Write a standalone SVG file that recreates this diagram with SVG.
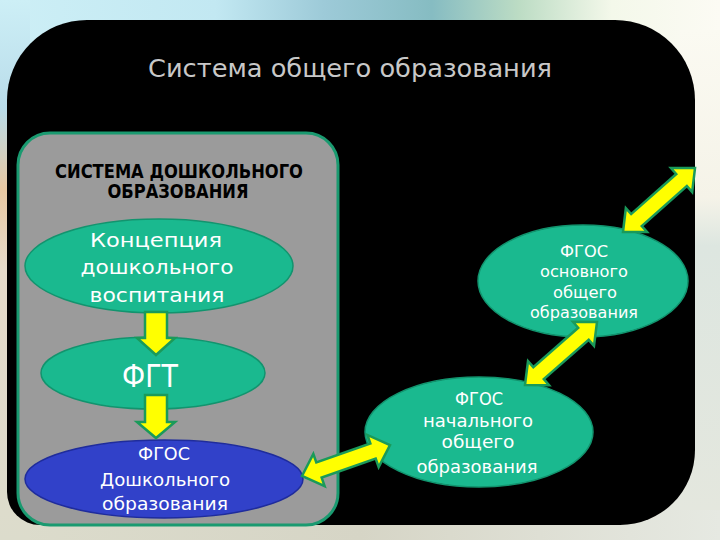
<svg xmlns="http://www.w3.org/2000/svg" width="720" height="540" viewBox="0 0 720 540">
<defs>
<linearGradient id="topg" x1="0" y1="0" x2="1" y2="0">
<stop offset="0" stop-color="#cdeff6"/>
<stop offset="0.3" stop-color="#c2e8f2"/>
<stop offset="0.45" stop-color="#9dcad8"/>
<stop offset="0.6" stop-color="#86bcc2"/>
<stop offset="0.72" stop-color="#bcdcc4"/>
<stop offset="0.85" stop-color="#f4f8ea"/>
<stop offset="1" stop-color="#fcfbf4"/>
</linearGradient>
<linearGradient id="leftg" x1="0" y1="0" x2="0" y2="1">
<stop offset="0" stop-color="#cdeff6"/>
<stop offset="0.2" stop-color="#b9dcea"/>
<stop offset="0.35" stop-color="#e8c8a2"/>
<stop offset="0.5" stop-color="#e6dccb"/>
<stop offset="1" stop-color="#dcdccc"/>
</linearGradient>
<linearGradient id="rightg" x1="0" y1="0" x2="0" y2="1">
<stop offset="0" stop-color="#fbfaf2"/>
<stop offset="0.35" stop-color="#f5f3e8"/>
<stop offset="0.45" stop-color="#dde6e0"/>
<stop offset="1" stop-color="#e4e7de"/>
</linearGradient>
<linearGradient id="botg" x1="0" y1="0" x2="1" y2="0">
<stop offset="0" stop-color="#dcdccc"/>
<stop offset="0.5" stop-color="#d6d5c6"/>
<stop offset="1" stop-color="#e6e9e2"/>
</linearGradient>
<style>
.ell{fill:#1ab98f;stroke:#12946e;stroke-width:1.5}
.blue{fill:#3141c9;stroke:#1f2c9c;stroke-width:1.5}
.arr{fill:#ffff00;stroke:#1a9a5a;stroke-width:2.5;stroke-linejoin:miter}
.wt{fill:#ffffff;font-family:"DejaVu Sans","Liberation Sans",sans-serif;text-anchor:middle}
.bk{fill:#000000;font-family:"DejaVu Sans","Liberation Sans",sans-serif;font-weight:bold;text-anchor:middle}
</style>
</defs>
<rect x="0" y="0" width="720" height="540" fill="url(#botg)"/>
<rect x="0" y="0" width="720" height="60" fill="url(#topg)"/>
<rect x="0" y="0" width="30" height="540" fill="url(#leftg)"/>
<rect x="680" y="30" width="40" height="480" fill="url(#rightg)"/>
<path d="M7,100 A80,80 0 0 1 87,20 H615 A80,80 0 0 1 695,100 V450 A75,75 0 0 1 620,525 H40 A33,33 0 0 1 7,492 Z" fill="#000000"/>
<text x="350" y="77" fill="#c8c8c8" font-family="DejaVu Sans, sans-serif" font-size="24" text-anchor="middle" textLength="404" lengthAdjust="spacingAndGlyphs">Система общего образования</text>
<g id="panel">
<rect x="18" y="133" width="320" height="392" rx="32" fill="#9b9b9b" stroke="#1a9a70" stroke-width="3"/>
<text class="bk" x="179" y="178" font-size="19" textLength="248" lengthAdjust="spacingAndGlyphs">СИСТЕМА ДОШКОЛЬНОГО</text>
<text class="bk" x="178" y="198" font-size="19" textLength="141" lengthAdjust="spacingAndGlyphs">ОБРАЗОВАНИЯ</text>
</g>
<g id="concept">
<ellipse class="ell" cx="159" cy="266" rx="134" ry="47"/>
<text class="wt" x="156" y="247" font-size="20" textLength="132" lengthAdjust="spacingAndGlyphs">Концепция</text>
<text class="wt" x="157" y="274" font-size="20" textLength="153" lengthAdjust="spacingAndGlyphs">дошкольного</text>
<text class="wt" x="157" y="302" font-size="20" textLength="135" lengthAdjust="spacingAndGlyphs">воспитания</text>
</g>
<g id="fgt">
<ellipse class="ell" cx="153" cy="373" rx="112" ry="36"/>
<text class="wt" x="150" y="387" font-size="32" textLength="56" lengthAdjust="spacingAndGlyphs">ФГТ</text>
</g>
<g id="fgos-preschool">
<ellipse class="blue" cx="164" cy="479" rx="139" ry="39"/>
<text class="wt" x="164" y="460" font-size="17" textLength="52" lengthAdjust="spacingAndGlyphs">ФГОС</text>
<text class="wt" x="165" y="486" font-size="17" textLength="130" lengthAdjust="spacingAndGlyphs">Дошкольного</text>
<text class="wt" x="165" y="510" font-size="17" textLength="126" lengthAdjust="spacingAndGlyphs">образования</text>
</g>
<g id="fgos-primary">
<ellipse class="ell" cx="479" cy="432" rx="114" ry="55"/>
<text class="wt" x="479" y="405" font-size="18" textLength="48" lengthAdjust="spacingAndGlyphs">ФГОС</text>
<text class="wt" x="478" y="427" font-size="18" textLength="110" lengthAdjust="spacingAndGlyphs">начального</text>
<text class="wt" x="478" y="448" font-size="18" textLength="73" lengthAdjust="spacingAndGlyphs">общего</text>
<text class="wt" x="477" y="473" font-size="18" textLength="121" lengthAdjust="spacingAndGlyphs">образования</text>
</g>
<g id="fgos-basic">
<ellipse class="ell" cx="583" cy="281" rx="105" ry="56"/>
<text class="wt" x="584" y="257" font-size="15" textLength="48" lengthAdjust="spacingAndGlyphs">ФГОС</text>
<text class="wt" x="584" y="277" font-size="15" textLength="88" lengthAdjust="spacingAndGlyphs">основного</text>
<text class="wt" x="585" y="298" font-size="15" textLength="64" lengthAdjust="spacingAndGlyphs">общего</text>
<text class="wt" x="584" y="318" font-size="15" textLength="108" lengthAdjust="spacingAndGlyphs">образования</text>
</g>
<g id="connectors">
<polygon class="arr" points="145,312 167,312 167,338 175,338 156,355 137,338 145,338"/>
<polygon class="arr" points="145,395 167,395 167,422 175,422 156,438 137,422 145,422"/>
<polygon class="arr" transform="translate(302,476) rotate(-19.4)" points="0,0 18,-17 18,-8 75.3,-8 75.3,-17 93.3,0 75.3,17 75.3,8 18,8 18,17"/>
<polygon class="arr" transform="translate(525,385) rotate(-41.2)" points="0,0 18,-16 18,-8 77.7,-8 77.7,-16 95.7,0 77.7,16 77.7,8 18,8 18,16"/>
<polygon class="arr" transform="translate(623,232) rotate(-41.6)" points="0,0 18,-16 18,-8 78.3,-8 78.3,-16 96.3,0 78.3,16 78.3,8 18,8 18,16"/>
</g>
</svg>
